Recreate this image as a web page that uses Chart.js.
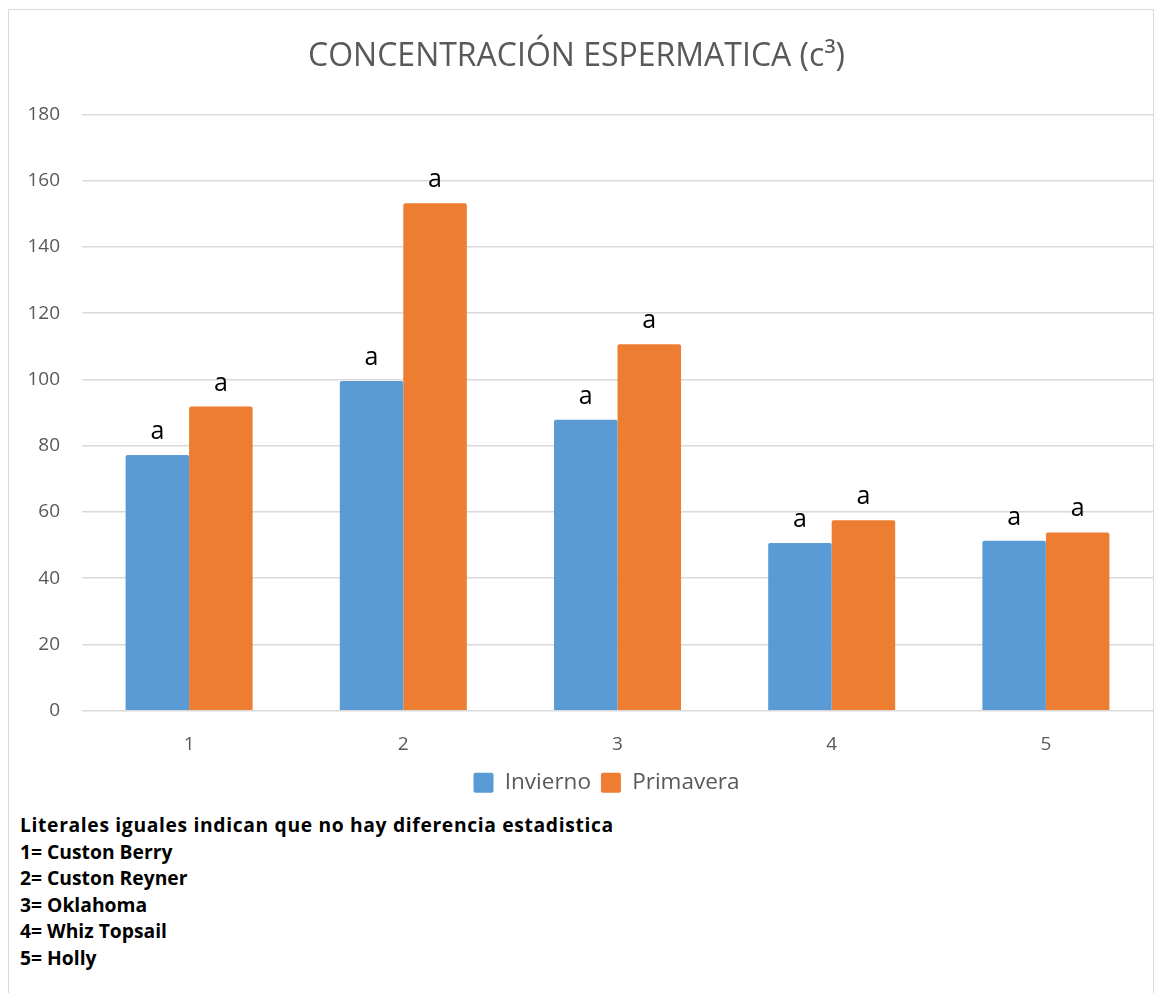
<!DOCTYPE html>
<html lang="es">
<head>
<meta charset="utf-8">
<title>Concentración espermática</title>
<script src="https://cdn.jsdelivr.net/npm/chart.js@4/dist/chart.umd.min.js"></script>
<style>
  html, body { margin: 0; padding: 0; background: #ffffff; }
  body { width: 1156px; height: 993px; position: relative; overflow: hidden; }
  #frame {
    position: absolute; left: 8px; top: 9px; width: 1146px; height: 1000px;
    border: 1px solid #d9d9d9; box-sizing: border-box;
  }
  #wrap { position: absolute; left: 0; top: 0; width: 1156px; height: 808px; }
  #notes {
    position: absolute; left: 20px; top: 812px;
    font-family: "Open Sans", sans-serif; font-weight: bold; font-size: 19.3px;
    color: #000; line-height: 26.5px;
  }
  #notes div { white-space: nowrap; }
  #notes div.lead { letter-spacing: 0.65px; }
</style>
</head>
<body>
<div id="frame"></div>
<div id="wrap"><canvas id="chart" width="1156" height="808"></canvas></div>
<div id="notes"></div>
<script>
// Varieties (numbered) and sperm concentration per season
const categories = ['1', '2', '3', '4', '5'];
const invierno = [77.2, 99.5, 87.8, 50.6, 51.3];
const primavera = [91.8, 153.2, 110.6, 57.5, 53.8];
// Statistical grouping letters shown above each bar
const letrasInvierno = ['a', 'a', 'a', 'a', 'a'];
const letrasPrimavera = ['a', 'a', 'a', 'a', 'a'];
const yTicks = [0, 20, 40, 60, 80, 100, 120, 140, 160, 180];
const notes = [
  'Literales iguales indican que no hay diferencia estadistica',
  '1= Custon Berry',
  '2= Custon Reyner',
  '3= Oklahoma',
  '4= Whiz Topsail',
  '5= Holly'
];

const notesEl = document.getElementById('notes');
notes.forEach((t, i) => {
  const d = document.createElement('div');
  d.textContent = t;
  if (i === 0) d.className = 'lead';
  notesEl.appendChild(d);
});

// Draws the significance letter above every bar
const letterPlugin = {
  id: 'letters',
  afterDatasetsDraw(chart) {
    const ctx = chart.ctx;
    ctx.save();
    ctx.font = '25px "Open Sans", sans-serif';
    ctx.fillStyle = '#000000';
    ctx.textAlign = 'center';
    ctx.textBaseline = 'alphabetic';
    chart.data.datasets.forEach((ds, i) => {
      const meta = chart.getDatasetMeta(i);
      meta.data.forEach((bar, j) => {
        const txt = ds.letters[j];
        if (txt) ctx.fillText(txt, bar.x, bar.y - 16);
      });
    });
    ctx.restore();
  }
};

// Nudges the legend a little to the right of the centre line
const legendShift = {
  id: 'legendShift',
  afterLayout(chart) {
    if (chart.legend) chart.legend.left += 60;
  }
};

new Chart(document.getElementById('chart'), {
  type: 'bar',
  data: {
    labels: categories,
    datasets: [
      {
        label: 'Invierno',
        data: invierno,
        letters: letrasInvierno,
        backgroundColor: '#5B9BD5',
        borderRadius: { topLeft: 2, topRight: 2 },
        borderSkipped: 'bottom'
      },
      {
        label: 'Primavera',
        data: primavera,
        letters: letrasPrimavera,
        backgroundColor: '#ED7D31',
        borderRadius: { topLeft: 2, topRight: 2 },
        borderSkipped: 'bottom'
      }
    ]
  },
  options: {
    responsive: false,
    animation: false,
    devicePixelRatio: 1,
    layout: { padding: { left: 0, right: 3, top: 0, bottom: 4 } },
    datasets: {
      bar: { barPercentage: 1.0, categoryPercentage: 0.593 }
    },
    plugins: {
      title: {
        display: true,
        text: 'CONCENTRACIÓN ESPERMATICA (c³)',
        color: '#595959',
        font: { family: '"Open Sans", sans-serif', size: 32, weight: 'normal' },
        padding: { top: 38, bottom: 38 }
      },
      legend: {
        display: true,
        position: 'bottom',
        labels: {
          color: '#595959',
          font: { family: '"Open Sans", sans-serif', size: 22.5 },
          boxWidth: 20,
          boxHeight: 20,
          padding: 10,
          useBorderRadius: true,
          borderRadius: 2
        }
      },
      tooltip: { enabled: false }
    },
    scales: {
      x: {
        afterFit(scale) { scale.height = scale.height - 16; },
        grid: { display: false, drawTicks: false },
        border: { display: false },
        ticks: {
          color: '#595959',
          font: { family: '"Open Sans", sans-serif', size: 19 },
          padding: 22
        }
      },
      y: {
        min: 0,
        max: 180,
        afterFit(scale) { scale.width = 82; },
        afterBuildTicks(scale) { scale.ticks = yTicks.map(v => ({ value: v })); },
        grid: { color: '#d9d9d9', lineWidth: 1.5, drawTicks: false },
        border: { display: false },
        ticks: {
          color: '#595959',
          font: { family: '"Open Sans", sans-serif', size: 19 },
          padding: 22
        }
      }
    }
  },
  plugins: [letterPlugin, legendShift]
});
</script>
</body>
</html>
